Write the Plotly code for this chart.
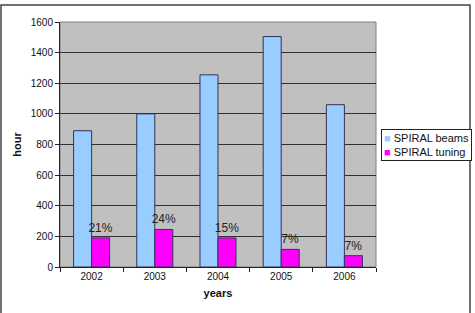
import plotly.graph_objects as go

years = ["2002", "2003", "2004", "2005", "2006"]
beams = [890, 1000, 1255, 1505, 1060]
tuning = [190, 245, 190, 115, 74]
tuning_pct = ["21%", "24%", "15%", "7%", "7%"]
series_names = ["SPIRAL beams", "SPIRAL tuning"]
series_colors = ["#99ccff", "#ff00ff"]

font = "Liberation Sans, Arial, sans-serif"

fig = go.Figure()
fig.add_trace(go.Bar(x=years, y=beams, name=series_names[0],
                     marker=dict(color=series_colors[0], line=dict(color="#333355", width=1))))
fig.add_trace(go.Bar(x=years, y=tuning, name=series_names[1],
                     text=tuning_pct, textposition="outside", cliponaxis=False,
                     constraintext="none", textangle=0,
                     textfont=dict(size=12, color="#222222", family=font),
                     marker=dict(color=series_colors[1], line=dict(color="#333355", width=1))))

legend_text = "<br>".join(
    f"<span style='color:{c}'>■</span> {n}" for n, c in zip(series_names, series_colors)
)

fig.update_layout(
    width=475, height=313,
    margin=dict(l=60, r=99, t=22, b=46),
    paper_bgcolor="white", plot_bgcolor="#c0c0c0",
    barmode="group", bargap=0.43, bargroupgap=0,
    font=dict(family=font, size=10, color="#111111"),
    showlegend=False,
    annotations=[dict(text=legend_text, xref="paper", yref="paper",
                      x=(426 - 60) / 316, y=(267 - 144.5) / 245,
                      xanchor="center", yanchor="middle", align="left",
                      showarrow=False, bgcolor="white", bordercolor="#222222",
                      borderwidth=1, borderpad=2,
                      font=dict(size=11, family=font, color="#111111"))],
    xaxis=dict(title=dict(text="<b>years</b>", font=dict(size=11), standoff=8),
               showline=True, linecolor="#222222", linewidth=1,
               ticks="outside", tickson="boundaries", ticklen=4, tickcolor="#222222",
               mirror=False, showgrid=False),
    yaxis=dict(title=dict(text="<b>hour</b>", font=dict(size=11), standoff=6),
               range=[0, 1600], dtick=200,
               showline=True, linecolor="#222222", linewidth=1,
               ticks="outside", ticklen=4, tickcolor="#222222",
               showgrid=True, gridcolor="#303030", gridwidth=1, zeroline=False),
    shapes=[
        dict(type="rect", xref="paper", yref="paper", x0=0, x1=1, y0=0, y1=1,
             line=dict(color="#808080", width=1), layer="below"),
        dict(type="rect", xref="paper", yref="paper",
             x0=(1 - 60) / 316, x1=(470 - 60) / 316,
             y0=(267 - 330) / 245, y1=(267 - 5) / 245,
             line=dict(color="#444444", width=1.5)),
    ],
)

fig.write_html("out.html")
